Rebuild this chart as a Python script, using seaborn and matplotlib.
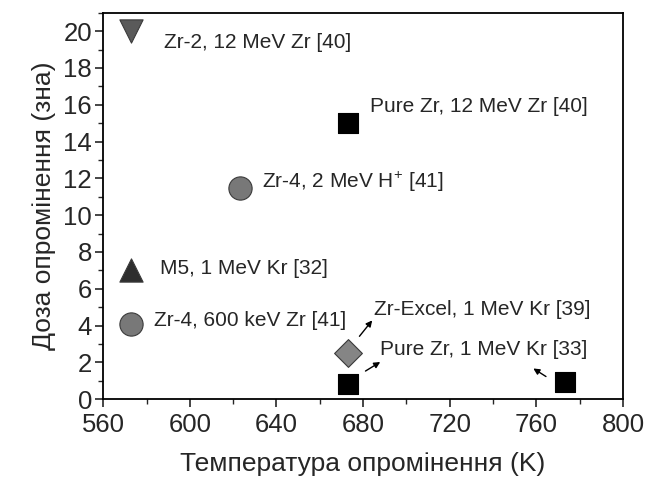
import matplotlib
matplotlib.use("Agg")
import matplotlib.pyplot as plt
import seaborn as sns
import pandas as pd
from matplotlib.ticker import MultipleLocator

sns.set_style("ticks")
plt.rcParams['font.family'] = ['Liberation Sans', 'DejaVu Sans']
plt.rcParams['mathtext.fontset'] = 'custom'
plt.rcParams['mathtext.rm'] = 'Liberation Sans'

labels = ["Zr-2, 12 MeV Zr [40]", "Pure Zr, 12 MeV Zr [40]", "Zr-4, 2 MeV H$^{+}$ [41]",
          "M5, 1 MeV Kr [32]", "Zr-4, 600 keV Zr [41]", "Zr-Excel, 1 MeV Kr [39]",
          "Pure Zr, 1 MeV Kr [33]", "Pure Zr, 1 MeV Kr [33]"]
temps = [573, 673, 623, 573, 573, 673, 673, 773]
doses = [20.0, 15.0, 11.5, 7.0, 4.1, 2.5, 0.8, 0.95]
markers = ["v", "s", "o", "^", "o", "D", "s", "s"]
colors = ["#5a5a5a", "#000000", "#787878", "#2e2e2e", "#787878", "#858585", "#000000", "#000000"]
sizes = [280, 190, 280, 280, 280, 200, 190, 190]

# label positions (text anchors)
lab_x = [588, 683, 633.5, 586, 583.5, 685, 688, None]
lab_y = [19.4, 15.9, 11.8, 7.1, 4.3, 4.9, 2.7, None]

df = pd.DataFrame({"T": temps, "D": doses})

fig = plt.figure(figsize=(6.49, 4.91), dpi=100)
ax = fig.add_axes([0.159, 0.187, 0.801, 0.787])

for i in range(len(temps)):
    sns.scatterplot(data=df.iloc[[i]], x="T", y="D", marker=markers[i], s=sizes[i],
                    color=colors[i], edgecolor="#3a3a3a" if colors[i] != "#000000" else "#000000",
                    linewidth=0.8, ax=ax, zorder=3)

for i in range(len(temps)):
    if lab_x[i] is not None:
        ax.text(lab_x[i], lab_y[i], labels[i], fontsize=15, va="center", ha="left")

arrow_kw = dict(arrowstyle="-|>", color="black", lw=1.0, mutation_scale=9)
ax.annotate("", xy=(685, 4.4), xytext=(677.5, 3.3), arrowprops=arrow_kw)
ax.annotate("", xy=(689, 2.1), xytext=(680, 1.45), arrowprops=arrow_kw)
ax.annotate("", xy=(757.5, 1.75), xytext=(765.5, 1.15), arrowprops=arrow_kw)

ax.set_xlim(560, 800)
ax.set_ylim(0, 21)
ax.xaxis.set_major_locator(MultipleLocator(40))
ax.xaxis.set_minor_locator(MultipleLocator(20))
ax.yaxis.set_major_locator(MultipleLocator(2))
ax.yaxis.set_minor_locator(MultipleLocator(1))
ax.tick_params(axis="both", which="major", direction="out", length=6, width=1.2, labelsize=18.5)
ax.tick_params(axis="x", which="major", pad=4)
ax.tick_params(axis="y", which="major", pad=2)
ax.tick_params(axis="both", which="minor", direction="out", length=3.5, width=1.0)
ax.tick_params(top=False, right=False)
for sp in ax.spines.values():
    sp.set_linewidth(1.3)
    sp.set_color("black")

ax.set_xlabel("Температура опромінення (K)", fontsize=19, labelpad=11)
ax.set_ylabel("Доза опромінення (зна)", fontsize=19, labelpad=5)

fig.savefig("out.png", dpi=100)
